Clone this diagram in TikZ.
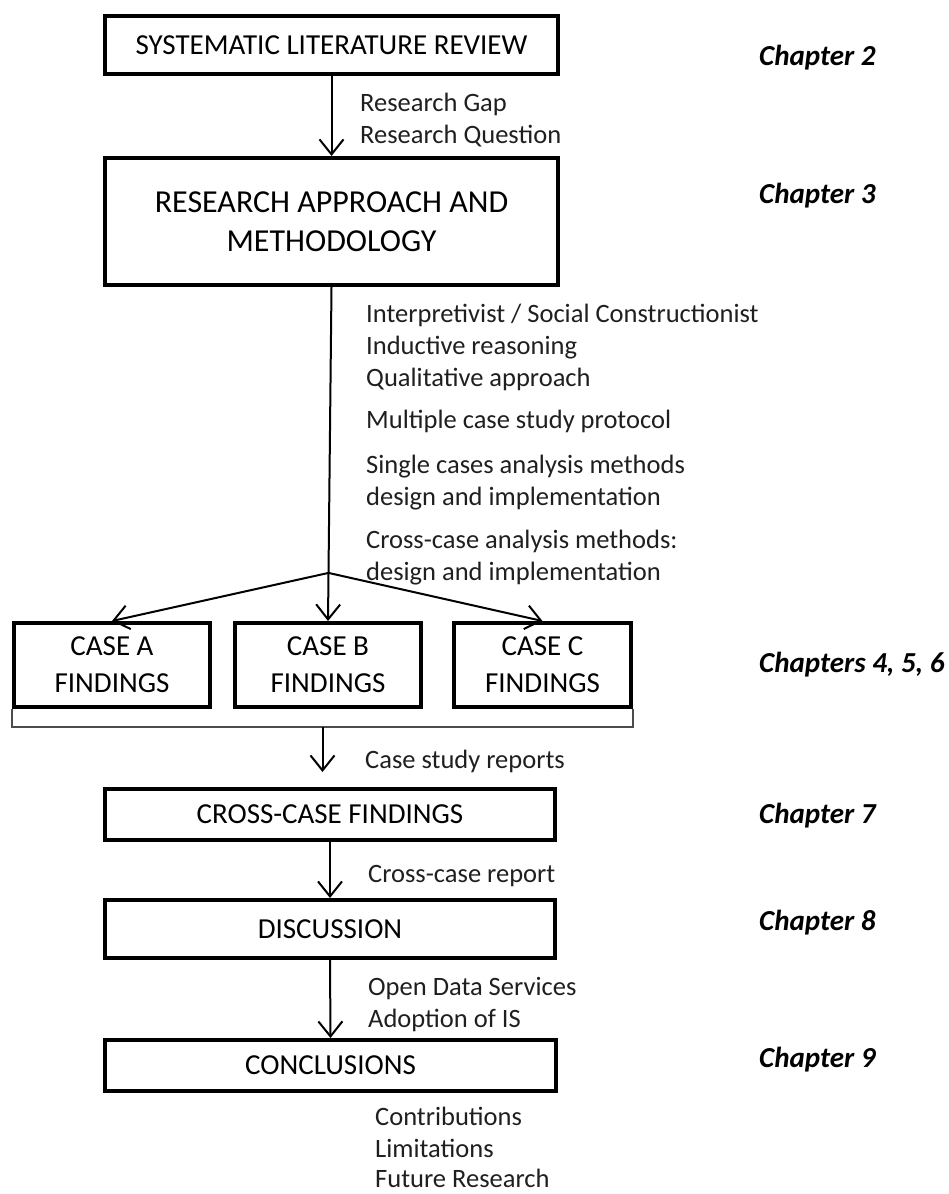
\documentclass[tikz,border=0pt]{standalone}
\usepackage{fontspec}
\setmainfont{Carlito}
\usetikzlibrary{arrows.meta,calc}
\begin{document}
\begin{tikzpicture}[x=1pt,y=-1pt,
  box/.style={draw,line width=4pt,rectangle,inner sep=0pt,align=center,
    font=\fontsize{29}{37}\selectfont},
  flow/.style={line width=2pt,-{Straight Barb[length=15pt,width=24pt,line width=2pt]}},
  lbl/.style={anchor=base west,inner sep=0pt,font=\fontsize{26.5}{32}\selectfont,text=black!88},
  chap/.style={anchor=base west,inner sep=0pt,font=\fontsize{29}{34}\selectfont\bfseries\itshape},
  bracket/.style={line width=1.5pt,draw=black!70}]
\useasboundingbox (0,0) rectangle (948,1194);

% main flow boxes
\node[box,minimum width=453pt,minimum height=58pt] (slr) at (331.5,45) {SYSTEMATIC LITERATURE REVIEW};
\node[box,minimum width=453pt,minimum height=127pt,font=\fontsize{32}{39}\selectfont] (ram) at (331.5,221.5) {RESEARCH APPROACH AND\\METHODOLOGY};
\node[box,minimum width=196pt,minimum height=84pt] (ca) at (112,665) {CASE A\\FINDINGS};
\node[box,minimum width=186pt,minimum height=84pt] (cb) at (328,665) {CASE B\\FINDINGS};
\node[box,minimum width=177pt,minimum height=84pt] (cc) at (542.5,665) {CASE C\\FINDINGS};
\node[box,minimum width=450pt,minimum height=51pt] (ccf) at (330,814.5) {CROSS-CASE FINDINGS};
\node[box,minimum width=450pt,minimum height=58pt] (disc) at (330,929) {DISCUSSION};
\node[box,minimum width=451pt,minimum height=51pt] (conc) at (330.5,1065.5) {CONCLUSIONS};

% connectors
\draw[flow] (slr.south) -- (ram.north);
\draw[flow] (ram.south) -- (cb.north);
\coordinate (j) at ($(ram.south)!0.856!(cb.north)$);
\draw[flow] (j) -- (ca.north);
\draw[flow] (j) -- (cc.north);

% bracket grouping the three cases
\draw[bracket] (ca.south west) -- ++(0,18) coordinate (bl) -| (cc.south east);
\coordinate (bm) at ($(bl)!0.5!(bl -| cc.south east)$);
\coordinate (bt) at ($(bm)+(0,45)$);
\draw[flow] (bm) -- (bt);

\draw[flow] (ccf.south) -- (disc.north);
\draw[flow] (disc.south) -- (conc.north);

% notes beside the connectors
\node[lbl] (n1) at (360,111) {Research Gap};
\node[lbl] (n2) at (360,143) {Research Question};
\node[lbl] (n3) at (366,322) {Interpretivist / Social Constructionist};
\node[lbl] (n4) at (366,354) {Inductive reasoning};
\node[lbl] (n5) at (366,386) {Qualitative approach};
\node[lbl] (n6) at (366,428) {Multiple case study protocol};
\node[lbl] (n7) at (366,473) {Single cases analysis methods};
\node[lbl] (n8) at (366,505) {design and implementation};
\node[lbl] (n9) at (366,548) {Cross-case analysis methods:};
\node[lbl] (n10) at (366,580) {design and implementation};
\node[lbl] (n11) at (365,768) {Case study reports};
\node[lbl] (n12) at (368,882) {Cross-case report};
\node[lbl] (n13) at (368,995) {Open Data Services};
\node[lbl] (n14) at (368,1027) {Adoption of IS};
\node[lbl] (n15) at (375,1125) {Contributions};
\node[lbl] (n16) at (375,1157) {Limitations};
\node[lbl] (n17) at (375,1187) {Future Research};

% chapter references
\node[chap] (ch2) at (759,65) {Chapter 2};
\node[chap] (ch3) at (759,203) {Chapter 3};
\node[chap] (ch456) at (759,672) {Chapters 4, 5, 6};
\node[chap] (ch7) at (759,823) {Chapter 7};
\node[chap] (ch8) at (759,930) {Chapter 8};
\node[chap] (ch9) at (759,1067) {Chapter 9};
\end{tikzpicture}
\end{document}
